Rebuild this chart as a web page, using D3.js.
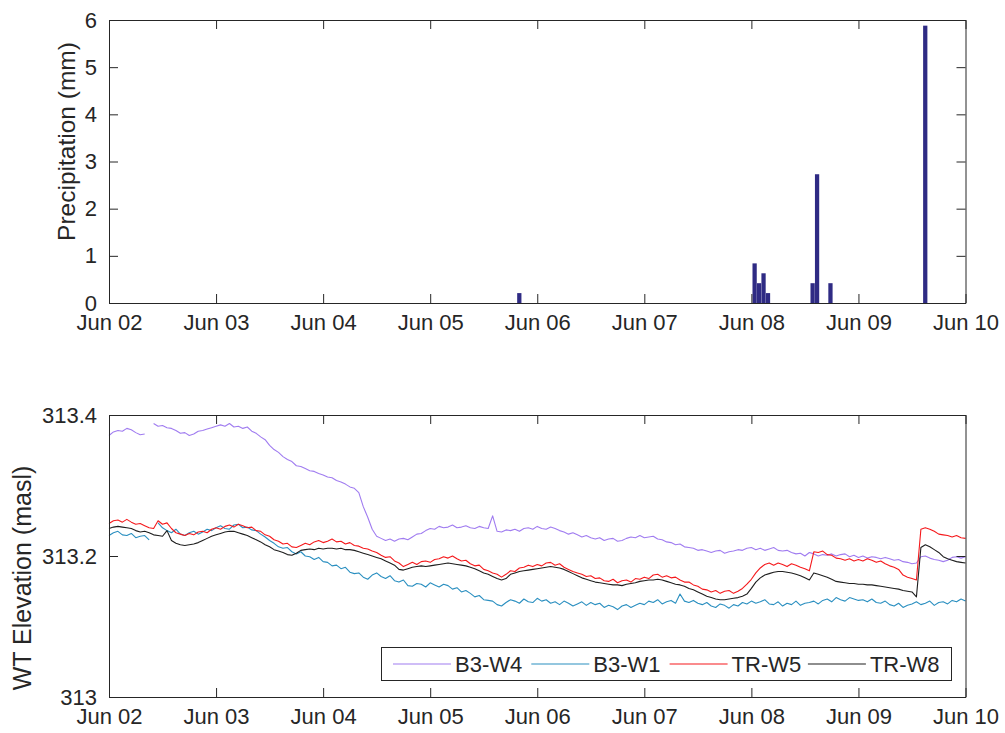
<!DOCTYPE html>
<html>
<head>
<meta charset="utf-8">
<script src="https://cdn.jsdelivr.net/npm/d3@7"></script>
<style>
  body { margin: 0; background: #fff; }
  text { font-family: "Liberation Sans", Arial, Helvetica, sans-serif; fill: #262626; }
</style>
</head>
<body>
<svg id="fig" width="1005" height="733"></svg>
<script>
// ---- data ----
const dayTicks = ["2016-06-02T00:00", "2016-06-03T00:00", "2016-06-04T00:00", "2016-06-05T00:00",
  "2016-06-06T00:00", "2016-06-07T00:00", "2016-06-08T00:00", "2016-06-09T00:00", "2016-06-10T00:00"];
const dayLabels = ["Jun 02", "Jun 03", "Jun 04", "Jun 05", "Jun 06", "Jun 07", "Jun 08", "Jun 09", "Jun 10"];

// hourly rainfall (tipping bucket, mm), start of each hour bin
const rainTimes = ["2016-06-05T19:30", "2016-06-08T00:15", "2016-06-08T01:15", "2016-06-08T02:15",
  "2016-06-08T03:15", "2016-06-08T13:15", "2016-06-08T14:15", "2016-06-08T17:15", "2016-06-09T14:30"];
const rainMm = [0.21, 0.84, 0.42, 0.63, 0.21, 0.42, 2.73, 0.42, 5.88];
const rainTicks = [0, 1, 2, 3, 4, 5, 6];

const wtTicks = [313, 313.2, 313.4];
const wtTickLabels = ["313", "313.2", "313.4"];

// water table elevations (masl), hourly from Jun 02 00:00; null = logger gap
const wtStart = "2016-06-02T00:00";
const seriesNames = ["B3-W4", "B3-W1", "TR-W5", "TR-W8"];
const seriesColors = ["#a07cf0", "#2a8fc0", "#f5191c", "#1e1e1e"];

const b3w4 = [313.371, 313.376, 313.378, 313.377, 313.381, 313.379, 313.375, 313.372, 313.373,
  null,
  313.388, 313.384, 313.385, 313.382, 313.381, 313.378, 313.374, 313.375, 313.371, 313.373, 313.377, 313.378, 313.380, 313.382, 313.384,
  313.386, 313.384, 313.388, 313.383, 313.384, 313.381, 313.383, 313.377, 313.374, 313.369, 313.365,
  313.357, 313.351, 313.347, 313.341, 313.337, 313.334, 313.328, 313.327, 313.324, 313.321, 313.320, 313.317,
  313.315, 313.312, 313.311, 313.307, 313.305, 313.302, 313.298, 313.296, 313.290, 313.270,
  313.255, 313.238, 313.228, 313.225, 313.222, 313.224, 313.221, 313.224, 313.225,
  313.223, 313.227, 313.231, 313.232, 313.236, 313.239,
  313.238, 313.242, 313.240, 313.241, 313.244, 313.240, 313.241, 313.243, 313.240, 313.239, 313.242, 313.240,
  313.239, 313.257, 313.235, 313.234,
  313.237, 313.236, 313.238, 313.235, 313.239, 313.240, 313.238, 313.242, 313.239, 313.238, 313.241, 313.239,
  313.236, 313.234, 313.231, 313.233, 313.230, 313.227, 313.229, 313.226, 313.224, 313.226, 313.222, 313.224, 313.225, 313.221, 313.222,
  313.225, 313.227, 313.226, 313.229, 313.226, 313.227, 313.228, 313.224, 313.223, 313.220, 313.219, 313.216, 313.217, 313.213, 313.212,
  313.211, 313.208, 313.209, 313.207, 313.205, 313.207, 313.208, 313.204, 313.206, 313.207, 313.209, 313.208, 313.211, 313.212, 313.209,
  313.211, 313.208, 313.210, 313.212, 313.208, 313.207, 313.208, 313.205, 313.203, 313.204, 313.200, 313.205, 313.203, 313.200, 313.202,
  313.201, 313.203, 313.200, 313.202, 313.203, 313.199, 313.201, 313.198, 313.200, 313.197, 313.199, 313.198, 313.196, 313.198, 313.196,
  313.194, 313.195, 313.192, 313.191, 313.189, 313.190,
  313.199, 313.200, 313.197, 313.195, 313.194, 313.192, 313.194, 313.198, 313.199, 313.197, 313.199];

const b3w1 = [313.229, 313.233, 313.235, 313.230, 313.229, 313.232, 313.226, 313.228, 313.229, 313.223,
  null,
  313.247, 313.240, 313.236, 313.233, 313.238, 313.231, 313.229, 313.233, 313.235, 313.231, 313.234, 313.238, 313.236, 313.240,
  313.243, 313.239, 313.238, 313.244, 313.245, 313.240, 313.241, 313.237, 313.236, 313.231, 313.227, 313.222,
  313.218, 313.213, 313.211, 313.212, 313.206, 313.203, 313.206, 313.200, 313.199, 313.195, 313.198, 313.192,
  313.191, 313.186, 313.187, 313.182, 313.184, 313.177, 313.175, 313.176, 313.170, 313.167, 313.173, 313.176,
  313.171, 313.168, 313.172, 313.165, 313.163, 313.166, 313.158, 313.157, 313.161, 313.160, 313.156, 313.162,
  313.159, 313.156, 313.160, 313.158, 313.153, 313.155, 313.149, 313.151, 313.147, 313.142, 313.144, 313.138,
  313.137, 313.136, 313.131, 313.129, 313.134, 313.138, 313.136, 313.133, 313.139, 313.135, 313.134, 313.140,
  313.136, 313.138, 313.133, 313.135, 313.131, 313.136, 313.133, 313.129, 313.132, 313.135, 313.130, 313.134,
  313.131, 313.133, 313.127, 313.130, 313.128, 313.124, 313.129, 313.131, 313.127, 313.130, 313.133, 313.131,
  313.136, 313.134, 313.138, 313.132, 313.135, 313.137, 313.133, 313.146, 313.136, 313.134, 313.137, 313.133,
  313.131, 313.134, 313.129, 313.127, 313.132, 313.130, 313.126, 313.131, 313.129, 313.134, 313.132, 313.136,
  313.133, 313.135, 313.138, 313.132, 313.131, 313.135, 313.129, 313.133, 313.131, 313.136, 313.130, 313.133,
  313.134, 313.136, 313.132, 313.137, 313.139, 313.135, 313.141, 313.138, 313.136, 313.141, 313.139, 313.137,
  313.138, 313.135, 313.139, 313.134, 313.133, 313.136, 313.131, 313.129, 313.133, 313.127, 313.130, 313.132,
  313.135, 313.131, 313.133, 313.136, 313.130, 313.134, 313.135, 313.132, 313.137, 313.135, 313.139, 313.136];

const trw5 = [313.246, 313.250, 313.251, 313.248, 313.252, 313.248, 313.245, 313.246, 313.243, 313.240, 313.239, 313.250,
  313.245, 313.247, 313.239, 313.233, 313.231, 313.229, 313.232, 313.230, 313.234, 313.235, 313.233, 313.238,
  313.240, 313.238, 313.242, 313.244, 313.241, 313.245, 313.243, 313.240, 313.241, 313.236, 313.235, 313.230,
  313.228, 313.223, 313.221, 313.217, 313.218, 313.213, 313.212, 313.215, 313.218, 313.216, 313.220, 313.222,
  313.219, 313.221, 313.224, 313.220, 313.221, 313.217, 313.219, 313.215, 313.214, 313.211, 313.210, 313.207,
  313.205, 313.201, 313.198, 313.199, 313.193, 313.190, 313.185, 313.188, 313.191, 313.188, 313.192, 313.193,
  313.191, 313.195, 313.196, 313.199, 313.197, 313.200, 313.196, 313.193, 313.194, 313.189, 313.186, 313.187,
  313.181, 313.179, 313.176, 313.174, 313.170, 313.174, 313.179, 313.178, 313.183, 313.184, 313.187, 313.185,
  313.188, 313.186, 313.190, 313.191, 313.187, 313.189, 313.184, 313.181, 313.178, 313.176, 313.174, 313.171,
  313.172, 313.168, 313.169, 313.165, 313.164, 313.167, 313.162, 313.165, 313.166, 313.163, 313.168, 313.167,
  313.170, 313.168, 313.173, 313.174, 313.170, 313.172, 313.169, 313.170, 313.166, 313.163, 313.163, 313.159,
  313.157, 313.153, 313.152, 313.149, 313.151, 313.147, 313.150, 313.151, 313.147, 313.150, 313.154, 313.160,
  313.167, 313.176, 313.183, 313.188, 313.190, 313.187, 313.190, 313.188, 313.185, 313.189, 313.187, 313.184,
  313.182, 313.179, 313.206, 313.205, 313.207, 313.202, 313.201, 313.197, 313.196, 313.194, 313.196, 313.193,
  313.195, 313.193, 313.196, 313.194, 313.191, 313.193, 313.189, 313.186, 313.184, 313.181, 313.173, 313.170,
  313.168, 313.166, 313.238, 313.240, 313.238, 313.235, 313.231, 313.230, 313.229, 313.227, 313.229, 313.226, 313.225];

const trw8 = [313.239, 313.241, 313.242, 313.241, 313.240, 313.239, 313.236, 313.234, 313.235, 313.233, 313.230, 313.229,
  313.228, 313.236, 313.222, 313.218, 313.216, 313.215, 313.216, 313.217, 313.219, 313.222, 313.225, 313.228,
  313.230, 313.232, 313.234, 313.235, 313.235, 313.233, 313.231, 313.229, 313.226, 313.223, 313.220, 313.216,
  313.213, 313.209, 313.207, 313.205, 313.202, 313.201, 313.204, 313.208, 313.209, 313.210, 313.209, 313.211,
  313.210, 313.211, 313.211, 313.210, 313.211, 313.209, 313.209, 313.208, 313.206, 313.204, 313.202, 313.200,
  313.198, 313.196, 313.193, 313.190, 313.187, 313.181, 313.180, 313.182, 313.184, 313.185, 313.186, 313.185,
  313.186, 313.187, 313.188, 313.189, 313.190, 313.189, 313.188, 313.187, 313.186, 313.184, 313.182, 313.179,
  313.176, 313.174, 313.171, 313.168, 313.166, 313.168, 313.174, 313.176, 313.178, 313.179, 313.180, 313.181,
  313.182, 313.183, 313.184, 313.185, 313.184, 313.183, 313.181, 313.178, 313.175, 313.172, 313.169, 313.167,
  313.165, 313.163, 313.162, 313.161, 313.160, 313.159, 313.159, 313.158, 313.160, 313.161, 313.162, 313.164,
  313.165, 313.166, 313.166, 313.167, 313.166, 313.164, 313.162, 313.160, 313.159, 313.157, 313.154, 313.152,
  313.149, 313.146, 313.143, 313.141, 313.139, 313.138, 313.138, 313.139, 313.140, 313.141, 313.143, 313.146,
  313.154, 313.163, 313.169, 313.173, 313.175, 313.177, 313.178, 313.178, 313.177, 313.176, 313.174, 313.172,
  313.169, 313.166, 313.176, 313.174, 313.172, 313.170, 313.167, 313.164, 313.163, 313.162, 313.161, 313.161,
  313.160, 313.160, 313.159, 313.159, 313.158, 313.157, 313.156, 313.155, 313.154, 313.153, 313.151, 313.150,
  313.149, 313.142, 313.212, 313.216, 313.213, 313.209, 313.205, 313.199, 313.196, 313.194, 313.192, 313.191, 313.190];

const seriesValues = [b3w4, b3w1, trw5, trw8];

// ---- layout ----
const parseTime = d3.timeParse("%Y-%m-%dT%H:%M");
const svg = d3.select("#fig");
const axisColor = "#262626";
const left = 109, right = 965.5;
const top1 = 20, bottom1 = 303;
const top2 = 415, bottom2 = 697;
const tickFont = 22;

const tickDates = dayTicks.map(parseTime);
const x = d3.scaleTime().domain([tickDates[0], tickDates[tickDates.length - 1]]).range([left, right]);

function drawFrame(g, yScale, yTicks, yLabels, top, bottom) {
  const fmtX = (d, i) => dayLabels[i];
  // bottom axis with labels, ticks pointing inward
  g.append("g").attr("transform", `translate(0,${bottom})`)
    .call(d3.axisBottom(x).tickValues(tickDates).tickFormat(fmtX).tickSizeInner(-9).tickSizeOuter(0).tickPadding(11));
  // top mirror
  g.append("g").attr("transform", `translate(0,${top})`)
    .call(d3.axisTop(x).tickValues(tickDates).tickFormat("").tickSizeInner(-9).tickSizeOuter(0));
  // left axis with labels
  g.append("g").attr("transform", `translate(${left},0)`)
    .call(d3.axisLeft(yScale).tickValues(yTicks).tickFormat((d, i) => yLabels[i]).tickSizeInner(-9).tickSizeOuter(0).tickPadding(12));
  // right mirror
  g.append("g").attr("transform", `translate(${right},0)`)
    .call(d3.axisRight(yScale).tickValues(yTicks).tickFormat("").tickSizeInner(-9).tickSizeOuter(0));
  g.selectAll(".domain, .tick line").attr("stroke", axisColor).attr("stroke-width", 1);
  g.selectAll(".tick text").attr("font-size", tickFont).attr("fill", axisColor)
    .style("font-family", '"Liberation Sans", Arial, sans-serif');
}

// ---- precipitation panel ----
const yRain = d3.scaleLinear().domain([0, 6]).range([bottom1, top1]);
const g1 = svg.append("g");
g1.selectAll("rect.bar").data(rainTimes.map((t, i) => ({ t: parseTime(t), v: rainMm[i] })))
  .join("rect").attr("class", "bar")
  .attr("x", d => x(d.t))
  .attr("width", d => x(d3.timeHour.offset(d.t, 1)) - x(d.t) - 0.2)
  .attr("y", d => yRain(d.v))
  .attr("height", d => yRain(0) - yRain(d.v))
  .attr("fill", "#2f2b84");
drawFrame(g1, yRain, rainTicks, rainTicks.map(String), top1, bottom1);
g1.append("text")
  .attr("transform", `translate(75,${(top1 + bottom1) / 2 - 20}) rotate(-90)`)
  .attr("text-anchor", "middle").attr("font-size", 24.5).text("Precipitation (mm)");

// ---- water table panel ----
const yWT = d3.scaleLinear().domain([313, 313.4]).range([bottom2, top2]);
const g2 = svg.append("g");
const t0 = parseTime(wtStart);
const line = d3.line()
  .defined(d => d.v !== null)
  .x(d => x(d.t)).y(d => yWT(d.v));
const lineLayer = g2.append("g");
seriesValues.forEach((vals, k) => {
  const pts = vals.map((v, i) => ({ t: d3.timeHour.offset(t0, i), v }));
  lineLayer.append("path").datum(pts)
    .attr("fill", "none").attr("stroke", seriesColors[k]).attr("stroke-width", 1.1)
    .attr("stroke-linejoin", "round").attr("d", line);
});
drawFrame(g2, yWT, wtTicks, wtTickLabels, top2, bottom2);
g2.append("text")
  .attr("transform", `translate(31,${(top2 + bottom2) / 2 + 22}) rotate(-90)`)
  .attr("text-anchor", "middle").attr("font-size", 25).text("WT Elevation (masl)");

// legend
const leg = g2.append("g");
leg.append("rect").attr("x", 381.5).attr("y", 647.5).attr("width", 570).attr("height", 33)
  .attr("fill", "#fff").attr("stroke", axisColor).attr("stroke-width", 1);
seriesNames.forEach((name, k) => {
  const x0 = 393 + k * 138.3;
  leg.append("line").attr("x1", x0).attr("x2", x0 + 58).attr("y1", 664).attr("y2", 664)
    .attr("stroke", seriesColors[k]).attr("stroke-width", 1.1);
  leg.append("text").attr("x", x0 + 62).attr("y", 664).attr("dy", "0.36em")
    .attr("font-size", 22).text(name);
});
</script>
</body>
</html>
